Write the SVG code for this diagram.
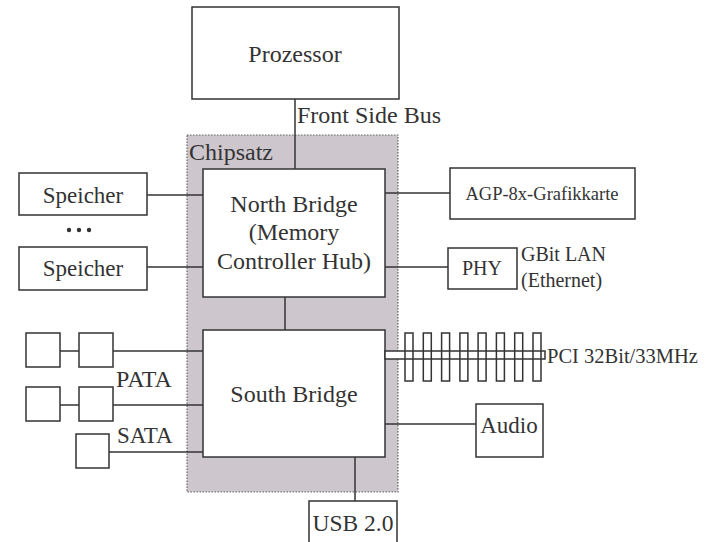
<svg xmlns="http://www.w3.org/2000/svg" width="711" height="542" viewBox="0 0 711 542">
<style>
.b{fill:#fff;stroke:#333;stroke-width:1.5}
.l{stroke:#333;stroke-width:1.5;fill:none}
.t{font-family:"Liberation Serif","DejaVu Serif",serif;fill:#333}
.m{text-anchor:middle}
</style>
<rect width="711" height="542" fill="#fff"/>
<g id="chipsatz">
<rect x="187" y="135" width="211" height="357" fill="#cdc6cd" stroke="#666" stroke-width="1.2" stroke-dasharray="1.5,1.5"/>
<text class="t" x="189" y="160" font-size="24">Chipsatz</text>
</g>
<g id="connectors">
<line class="l" x1="295" y1="99" x2="295" y2="169"/>
<line class="l" x1="285" y1="297" x2="285" y2="330"/>
<line class="l" x1="147" y1="195" x2="203" y2="195"/>
<line class="l" x1="147" y1="267" x2="203" y2="267"/>
<line class="l" x1="385" y1="193" x2="450" y2="193"/>
<line class="l" x1="385" y1="267" x2="448" y2="267"/>
<line class="l" x1="60" y1="351" x2="79" y2="351"/>
<line class="l" x1="113" y1="351" x2="203" y2="351"/>
<line class="l" x1="60" y1="405" x2="79" y2="405"/>
<line class="l" x1="113" y1="405" x2="203" y2="405"/>
<line class="l" x1="109" y1="452" x2="203" y2="452"/>
<line class="l" x1="385" y1="424" x2="476" y2="424"/>
<line class="l" x1="355" y1="457" x2="355" y2="501"/>
</g>
<g id="fsb-label"><text class="t" x="297" y="123" font-size="24">Front Side Bus</text></g>
<g id="prozessor">
<rect class="b" x="192" y="7" width="207" height="92"/>
<text class="t m" x="295" y="62" font-size="24">Prozessor</text>
</g>
<g id="northbridge">
<rect class="b" x="203" y="169" width="182" height="128"/>
<text class="t m" x="294" y="212" font-size="24">North Bridge</text>
<text class="t m" x="294" y="240" font-size="24">(Memory</text>
<text class="t m" x="294" y="269" font-size="24">Controller Hub)</text>
</g>
<g id="southbridge">
<rect class="b" x="203" y="330" width="182" height="127"/>
<text class="t m" x="294" y="402" font-size="24">South Bridge</text>
</g>
<g id="speicher1">
<rect class="b" x="19" y="173" width="128" height="42"/>
<text class="t m" x="83" y="203" font-size="23">Speicher</text>
</g>
<g id="dots">
<circle cx="69" cy="230" r="2.2" fill="#333"/>
<circle cx="79" cy="230" r="2.2" fill="#333"/>
<circle cx="89" cy="230" r="2.2" fill="#333"/>
</g>
<g id="speicher2">
<rect class="b" x="19" y="247" width="128" height="43"/>
<text class="t m" x="83" y="276" font-size="23">Speicher</text>
</g>
<g id="agp">
<rect class="b" x="450" y="168" width="185" height="51"/>
<text class="t m" x="542" y="200" font-size="18.5">AGP-8x-Grafikkarte</text>
</g>
<g id="phy">
<rect class="b" x="448" y="248" width="69" height="41"/>
<text class="t m" x="482" y="275" font-size="20">PHY</text>
<text class="t" x="521" y="261" font-size="20">GBit LAN</text>
<text class="t" x="521" y="287" font-size="20">(Ethernet)</text>
</g>
<g id="pci">
<rect class="b" x="385" y="351" width="160" height="8"/>
<g class="l">
<rect x="405" y="333" width="8" height="48"/>
<rect x="423.3" y="333" width="8" height="48"/>
<rect x="441.6" y="333" width="8" height="48"/>
<rect x="459.9" y="333" width="8" height="48"/>
<rect x="478.1" y="333" width="8" height="48"/>
<rect x="496.4" y="333" width="8" height="48"/>
<rect x="514.7" y="333" width="8" height="48"/>
<rect x="533" y="333" width="8" height="48"/>
</g>
<text class="t" x="547" y="363" font-size="20.5">PCI 32Bit/33MHz</text>
</g>
<g id="pata1">
<rect class="b" x="26" y="333" width="34" height="34"/>
<rect class="b" x="79" y="333" width="34" height="34"/>
</g>
<g id="pata2">
<rect class="b" x="26" y="387" width="34" height="34"/>
<rect class="b" x="79" y="387" width="34" height="34"/>
<text class="t" x="116" y="387" font-size="24">PATA</text>
</g>
<g id="sata">
<rect class="b" x="76" y="434" width="33" height="34"/>
<text class="t" x="117" y="443" font-size="23">SATA</text>
</g>
<g id="audio">
<rect class="b" x="476" y="404" width="67" height="53"/>
<text class="t m" x="509" y="433" font-size="23">Audio</text>
</g>
<g id="usb">
<rect class="b" x="309" y="501" width="88" height="45"/>
<text class="t m" x="353" y="531" font-size="23.5">USB 2.0</text>
</g>
</svg>
